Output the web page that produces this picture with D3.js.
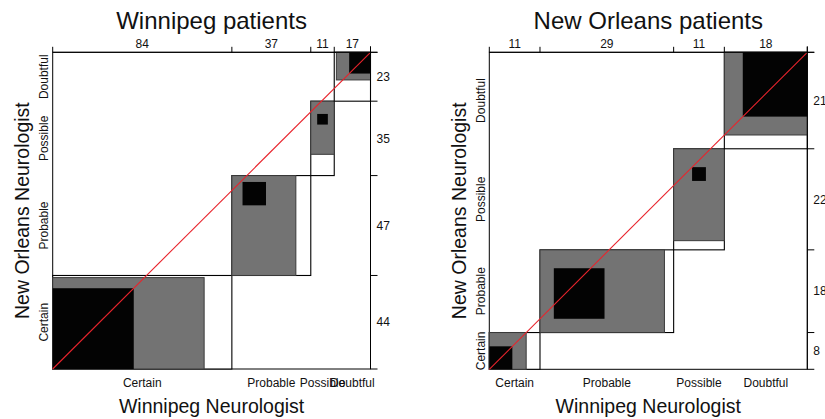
<!DOCTYPE html>
<html>
<head>
<meta charset="utf-8">
<script src="https://cdn.jsdelivr.net/npm/d3@7"></script>
<style>
  html, body { margin: 0; padding: 0; background: #fff; }
  svg { display: block; font-family: "Liberation Sans", Arial, Helvetica, sans-serif; }
</style>
</head>
<body>
<svg id="chart" width="825" height="419"></svg>
<script>
// ---- data (rows = New Orleans Neurologist, cols = Winnipeg Neurologist) ----
const categories = ["Certain", "Probable", "Possible", "Doubtful"];
const panelTitles = ["Winnipeg patients", "New Orleans patients"];
const xTitle = "Winnipeg Neurologist";
const yTitle = "New Orleans Neurologist";
const winnipegCounts = [
  [38, 5, 0, 1],
  [33, 11, 3, 0],
  [10, 14, 5, 6],
  [3, 7, 3, 10]
];
const newOrleansCounts = [
  [5, 3, 0, 0],
  [3, 11, 4, 0],
  [2, 13, 3, 4],
  [1, 2, 4, 14]
];
// agreement bands: 1 = partial agreement (adjacent categories), 0 = exact agreement
const bandWidths = [1, 0];

// ---- styles / layout ----
const bandFill = ["#737373", "#030303"];
const bandStroke = ["#3a3a3a", "none"];
const panels = [
  { data: winnipegCounts, x0: 52.7, x1: 370.5, yt: 52.3, yb: 369.0 },
  { data: newOrleansCounts, x0: 489.3, x1: 807.3, yt: 52.3, yb: 369.3 }
];

const svg = d3.select("#chart");

panels.forEach((p, pi) => {
  const m = p.data;
  const k = categories.length;
  const colSums = d3.range(k).map(j => d3.sum(m, r => r[j]));
  const rowSums = m.map(r => d3.sum(r));
  const total = d3.sum(colSums);
  const xc = [0, ...d3.cumsum(colSums)];
  const yc = [0, ...d3.cumsum(rowSums)];

  const x = d3.scaleLinear().domain([0, total]).range([p.x0, p.x1]);
  const y = d3.scaleLinear().domain([0, total]).range([p.yb, p.yt]);
  const g = svg.append("g");

  // frame
  g.append("rect")
    .attr("x", x(0)).attr("y", y(total))
    .attr("width", x(total) - x(0)).attr("height", y(0) - y(total))
    .attr("fill", "none").attr("stroke", "#000").attr("stroke-width", 1);

  for (let i = 0; i < k; i++) {
    // total rectangle
    g.append("rect")
      .attr("x", x(xc[i])).attr("y", y(yc[i] + rowSums[i]))
      .attr("width", x(xc[i] + colSums[i]) - x(xc[i]))
      .attr("height", y(yc[i]) - y(yc[i] + rowSums[i]))
      .attr("fill", "#fff").attr("stroke", "#000").attr("stroke-width", 1.1);

    bandWidths.forEach((q, bi) => {
      const lo = Math.max(0, i - q), hi = Math.min(k - 1, i + q);
      // x-direction: within column i, cells ordered by row
      let xOff = 0, w = 0, yOff = 0, h = 0;
      for (let r = 0; r < k; r++) {
        if (r < lo) xOff += m[r][i];
        else if (r <= hi) w += m[r][i];
      }
      for (let c = 0; c < k; c++) {
        if (c < lo) yOff += m[i][c];
        else if (c <= hi) h += m[i][c];
      }
      if (w <= 0 || h <= 0) return;
      const ax = xc[i] + xOff, ay = yc[i] + yOff;
      g.append("rect")
        .attr("x", x(ax)).attr("y", y(ay + h))
        .attr("width", x(ax + w) - x(ax))
        .attr("height", y(ay) - y(ay + h))
        .attr("fill", bandFill[bi])
        .attr("stroke", bandStroke[bi]).attr("stroke-width", 1);
    });
  }

  // diagonal
  g.append("line")
    .attr("x1", x(0)).attr("y1", y(0)).attr("x2", x(total)).attr("y2", y(total))
    .attr("stroke", "#e8242c").attr("stroke-width", 1.1);

  // top axis
  g.append("line").attr("x1", x(0)).attr("x2", x(total) + 7)
    .attr("y1", y(total)).attr("y2", y(total)).attr("stroke", "#000");
  xc.forEach(v => {
    g.append("line").attr("x1", x(v)).attr("x2", x(v))
      .attr("y1", y(total)).attr("y2", y(total) - 5.5).attr("stroke", "#000");
  });
  colSums.forEach((s, i) => {
    g.append("text").attr("x", x(xc[i] + s / 2)).attr("y", 47.5)
      .attr("text-anchor", "middle").attr("font-size", 12).attr("fill", "#111")
      .text(s);
  });

  // right axis
  g.append("line").attr("x1", x(total)).attr("x2", x(total))
    .attr("y1", y(total) - 6).attr("y2", y(0)).attr("stroke", "#000");
  yc.forEach(v => {
    g.append("line").attr("x1", x(total)).attr("x2", x(total) + 7)
      .attr("y1", y(v)).attr("y2", y(v)).attr("stroke", "#000");
  });
  rowSums.forEach((s, i) => {
    g.append("text").attr("x", x(total) + 6).attr("y", y(yc[i] + s / 2))
      .attr("dy", "0.35em").attr("font-size", 12).attr("fill", "#111")
      .text(s);
  });

  // category labels
  categories.forEach((c, i) => {
    g.append("text").attr("x", x(xc[i] + colSums[i] / 2)).attr("y", 387)
      .attr("text-anchor", "middle").attr("font-size", 12).attr("fill", "#111")
      .text(c);
    g.append("text")
      .attr("transform", `translate(${x(0) - 4.5},${y(yc[i] + rowSums[i] / 2)}) rotate(-90)`)
      .attr("text-anchor", "middle").attr("font-size", 12).attr("fill", "#111")
      .text(c);
  });

  // titles
  const cx = (x(0) + x(total)) / 2, cy = (y(0) + y(total)) / 2;
  g.append("text").attr("x", cx).attr("y", 29.3)
    .attr("text-anchor", "middle").attr("font-size", 24).attr("fill", "#111")
    .text(panelTitles[pi]);
  g.append("text").attr("x", cx).attr("y", 413)
    .attr("text-anchor", "middle").attr("font-size", 19.5).attr("fill", "#111")
    .text(xTitle);
  g.append("text")
    .attr("transform", `translate(${x(0) - 23.4},${cy}) rotate(-90)`)
    .attr("text-anchor", "middle").attr("font-size", 19.5).attr("fill", "#111")
    .text(yTitle);
});
</script>
</body>
</html>
